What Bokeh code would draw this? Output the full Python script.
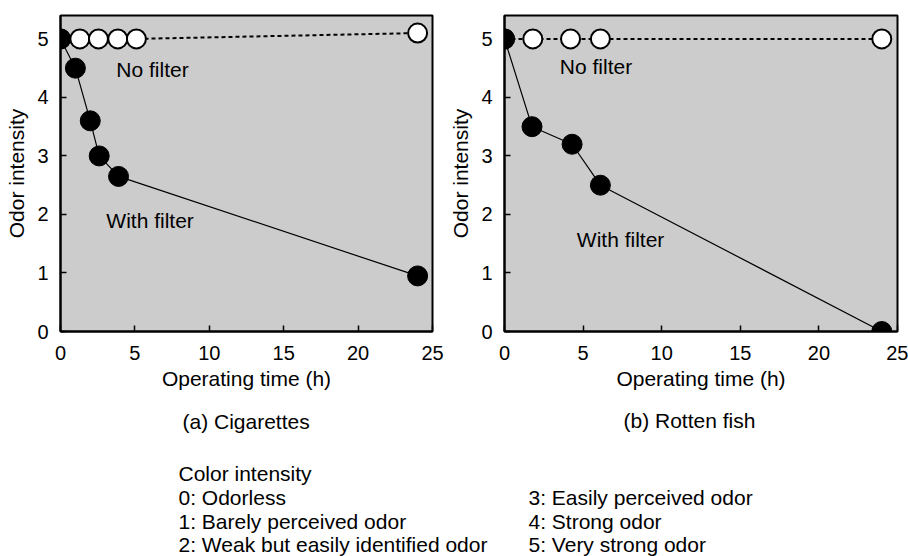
from bokeh.plotting import figure
from bokeh.layouts import column, row
from bokeh.models import Range1d, FixedTicker, ColumnDataSource
from bokeh.core.properties import value
from bokeh.embed import file_html
from bokeh.resources import INLINE

FONT = "Liberation Sans"

# (a) Cigarettes
cig_filter_t = [0, 1.0, 2.0, 2.6, 3.9, 24]
cig_filter_odor = [5.0, 4.5, 3.6, 3.0, 2.65, 0.95]
cig_nofilter_t = [0, 1.3, 2.55, 3.85, 5.1, 24]
cig_nofilter_odor = [5.0, 5.0, 5.0, 5.0, 5.0, 5.1]

# (b) Rotten fish
fish_filter_t = [0, 1.75, 4.3, 6.1, 24]
fish_filter_odor = [5.0, 3.5, 3.2, 2.5, 0.0]
fish_nofilter_t = [0, 1.8, 4.2, 6.1, 24]
fish_nofilter_odor = [5.0, 5.0, 5.0, 5.0, 5.0]

x_ticks = [0, 5, 10, 15, 20, 25]
y_ticks = [0, 1, 2, 3, 4, 5]

captions = ["(a) Cigarettes", "(b) Rotten fish"]
scale_title = "Color intensity"
scale_left = ["0: Odorless", "1: Barely perceived odor",
              "2: Weak but easily identified odor"]
scale_right = ["3: Easily perceived odor", "4: Strong odor",
               "5: Very strong odor"]


def panel(width, border_left, border_right, t_f, o_f, t_n, o_n,
          nofilter_pos, filter_pos):
    p = figure(width=width, height=400, output_backend="svg",
               toolbar_location=None,
               x_range=Range1d(0, 25), y_range=Range1d(0, 5.4),
               min_border_left=border_left, min_border_right=border_right,
               min_border_top=15, min_border_bottom=69)
    p.background_fill_color = "#cccccc"
    p.border_fill_color = "white"
    p.outline_line_color = "black"
    p.outline_line_width = 2
    p.xgrid.visible = False
    p.ygrid.visible = False

    for ax in (p.xaxis[0], p.yaxis[0]):
        ax.axis_line_color = "black"
        ax.axis_line_width = 2
        ax.major_tick_in = 6
        ax.major_tick_out = 0
        ax.minor_tick_line_color = None
        ax.major_tick_line_color = "black"
        ax.major_tick_line_width = 1.5
        ax.major_label_text_font = FONT
        ax.major_label_text_font_size = "20px"
        ax.major_label_text_color = "black"
        ax.axis_label_text_font = FONT
        ax.axis_label_text_font_size = "21px"
        ax.axis_label_text_font_style = "normal"
        ax.axis_label_text_color = "black"

    p.xaxis.ticker = FixedTicker(ticks=x_ticks)
    p.yaxis.ticker = FixedTicker(ticks=y_ticks)
    p.xaxis.axis_label = "Operating time (h)"
    p.yaxis.axis_label = "Odor intensity"
    p.xaxis.major_label_standoff = 14
    p.xaxis.axis_label_standoff = 4
    p.yaxis.major_label_standoff = 12
    p.yaxis.axis_label_standoff = 6

    nf = ColumnDataSource(dict(t=t_n, odor=o_n))
    wf = ColumnDataSource(dict(t=t_f, odor=o_f))

    # untreated air: dashed line with open circles
    p.line("t", "odor", source=nf, line_color="black", line_width=2,
           line_dash="4 3")
    p.scatter("t", "odor", source=nf, size=19, fill_color="white",
              line_color="black", line_width=2)

    # filtered air: solid line with filled circles
    p.line("t", "odor", source=wf, line_color="black", line_width=1.2)
    p.scatter("t", "odor", source=wf, size=20, fill_color="black",
              line_color="black", line_width=1)

    p.text(x=[nofilter_pos[0]], y=[nofilter_pos[1]], text=["No filter"],
           text_font=value(FONT), text_font_size="21px",
           text_baseline="alphabetic", text_align="left", text_color="black")
    p.text(x=[filter_pos[0]], y=[filter_pos[1]], text=["With filter"],
           text_font=value(FONT), text_font_size="21px",
           text_baseline="alphabetic", text_align="left", text_color="black")
    return p


p1 = panel(446, 60, 14, cig_filter_t, cig_filter_odor,
           cig_nofilter_t, cig_nofilter_odor, (3.75, 4.47), (3.08, 1.9))
p2 = panel(462, 56, 11, fish_filter_t, fish_filter_odor,
           fish_nofilter_t, fish_nofilter_odor, (3.52, 4.52), (4.6, 1.57))

# caption and intensity scale beneath the panels (pixel coordinates)
notes = figure(width=908, height=156, output_backend="svg",
               toolbar_location=None,
               x_range=Range1d(0, 908), y_range=Range1d(556, 400),
               min_border_left=0, min_border_right=0,
               min_border_top=0, min_border_bottom=0,
               x_axis_location=None, y_axis_location=None)
notes.outline_line_color = None
notes.xgrid.visible = False
notes.ygrid.visible = False
notes.background_fill_color = "white"
notes.border_fill_color = "white"

text_kw = dict(text_font=value(FONT), text_font_size="21px",
               text_baseline="alphabetic", text_align="left",
               text_color="black")
notes.text(x=[182, 623], y=[421, 420], text=captions, **text_kw)
notes.text(x=[178], y=[473], text=[scale_title], **text_kw)
notes.text(x=[178] * 3, y=[497, 521, 544], text=scale_left, **text_kw)
notes.text(x=[528] * 3, y=[497, 521, 544], text=scale_right, **text_kw)

layout = column(row(p1, p2, spacing=0), notes, spacing=0)

open("out.html", "w").write(file_html(layout, INLINE))
